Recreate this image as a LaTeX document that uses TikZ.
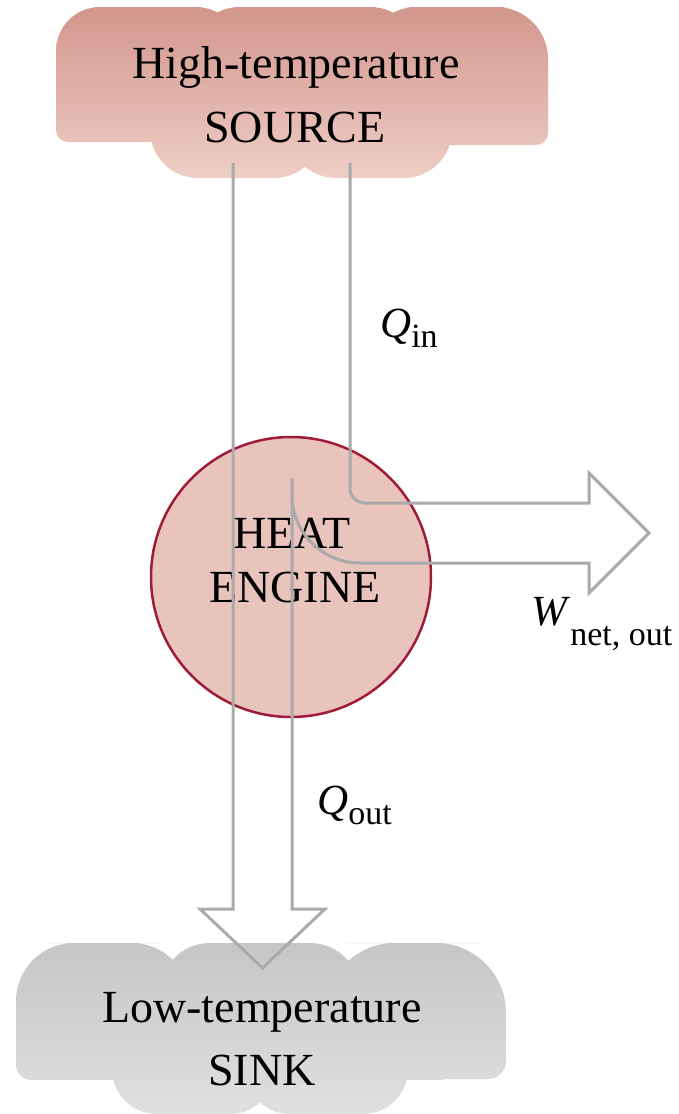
\documentclass[tikz,border=0pt]{standalone}
\usepackage{fontspec}
\setmainfont{Liberation Serif}
\definecolor{srctop}{RGB}{210,150,140}
\definecolor{srcbot}{RGB}{238,206,198}
\definecolor{sinktop}{RGB}{198,198,198}
\definecolor{sinkbot}{RGB}{224,224,224}
\definecolor{engfill}{RGB}{233,196,189}
\definecolor{engdraw}{RGB}{158,28,56}
\definecolor{flow}{RGB}{170,170,170}
\tikzset{
  bigtxt/.style={inner sep=0pt, anchor=base, font=\fontsize{46}{46}\selectfont},
  lbl/.style={inner sep=0pt, anchor=base west, font=\fontsize{43}{43}\selectfont},
  flowline/.style={draw=flow, line width=3pt},
}
\newcommand{\subtxt}[2]{\raisebox{-#1pt}{\fontsize{34}{34}\selectfont #2}}
\begin{document}
\begin{tikzpicture}[x=1pt,y=-1pt]
\useasboundingbox (0,0) rectangle (679,1114);
\fill[white] (0,0) rectangle (679,1114);
\begin{scope}
\clip (0,0) rectangle (679,1114);
% source cloud
\shade[top color=srctop, bottom color=srcbot]
 (148,7) [rounded corners=44pt] -- (240,7) -- (240,142) -- (56,142) -- (56,7) -- cycle
 (305,7) [rounded corners=50pt] -- (420,7) -- (420,125) -- (190,125) -- (190,7) -- cycle
 (456,7) [rounded corners=52pt] -- (548,7) -- (548,145) -- (365,145) -- (365,7) -- cycle
 (103,80) [rounded corners=12pt] -- (150,80) -- (150,142) -- (56,142) -- (56,80) -- cycle
 (499,80) [rounded corners=12pt] -- (548,80) -- (548,145) -- (450,145) -- (450,80) -- cycle
 (236,60) [rounded corners=48pt] -- (322,60) -- (322,178) -- (150,178) -- (150,60) -- cycle
 (370,60) [rounded corners=48pt] -- (452,60) -- (452,178) -- (288,178) -- (288,60) -- cycle;
% sink cloud
\shade[top color=sinktop, bottom color=sinkbot]
 (103,943) [rounded corners=58pt] -- (190,943) -- (190,1080) -- (16,1080) -- (16,943) -- cycle
 (68,1000) [rounded corners=15pt] -- (120,1000) -- (120,1080) -- (16,1080) -- (16,1000) -- cycle
 (260,943) [rounded corners=50pt] -- (360,943) -- (360,1060) -- (160,1060) -- (160,943) -- cycle
 (415,943) [rounded corners=70pt] -- (506,943) -- (506,1080) -- (325,1080) -- (325,943) -- cycle
 (453,1000) [rounded corners=18pt] -- (506,1000) -- (506,1079) -- (400,1079) -- (400,1000) -- cycle
 (193,1000) [rounded corners=45pt] -- (275,1000) -- (275,1114) -- (112,1114) -- (112,1000) -- cycle
 (326,1000) [rounded corners=45pt] -- (408,1000) -- (408,1114) -- (245,1114) -- (245,1000) -- cycle;
\end{scope}
% texts in clouds
\node[bigtxt] (src1) at (296,78) {High-temperature};
\node[bigtxt] (src2) at (295,142) {SOURCE};
\node[bigtxt] (snk1) at (262,1022) {Low-temperature};
\node[bigtxt] (snk2) at (262,1085) {SINK};
% engine
\node[circle, draw=engdraw, fill=engfill, line width=2.5pt, minimum size=280pt, inner sep=0pt] (engine) at (291,577) {};
\node[bigtxt] (eng1) at (292,548) {HEAT};
\node[bigtxt] (eng2) at (295,602) {ENGINE};
% flows
\coordinate (srcL) at (233,163);
\coordinate (srcR) at (350,163);
\coordinate (snkTip) at (262.5,968);
\coordinate (wTip) at (649,533);
\draw[flowline] (srcL) -- (233,909) -- (200,909) -- (snkTip) -- (325,909) -- (292,909) -- (292,478);
\draw[flowline] (srcR) -- (350,488) .. controls (350,496.3) and (356.7,503) .. (365,503) -- (589,503) -- (589,473) -- (wTip) -- (589,593) -- (589,563) -- (360,563) .. controls (322.5,563) and (292,532.5) .. (292,495);
% labels
\node[lbl] (qin) at (380,337) {\textit{Q}\subtxt{10}{in}};
\node[lbl] (qout) at (317,814) {\textit{Q}\subtxt{10}{out}};
\node[lbl] (wnet) at (531,625) {\textit{W}\subtxt{20}{net, out}};
\end{tikzpicture}
\end{document}
